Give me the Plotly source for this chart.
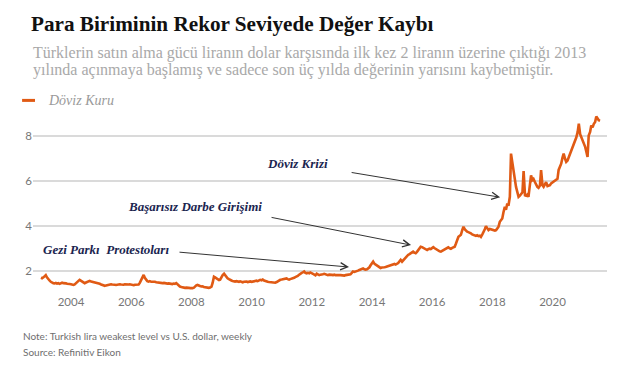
import pandas as pd
import plotly.graph_objects as go

# Semi-monthly weekly-high USD/TRY readings (1st and 15th of each month)
rate_2003_2008 = [
    1.68,1.66,1.70,1.78,1.80,1.70,1.60,1.56,1.50,1.46,1.44,1.43,1.45,1.42,1.44,1.41,1.43,1.46,1.44,1.45,1.43,1.41,1.42,1.40,
    1.39,1.37,1.36,1.38,1.42,1.47,1.54,1.59,1.55,1.50,1.46,1.44,1.47,1.50,1.52,1.54,1.51,1.50,1.48,1.47,1.45,1.44,1.43,1.41,
    1.38,1.35,1.33,1.32,1.34,1.36,1.38,1.37,1.39,1.38,1.39,1.37,1.36,1.38,1.37,1.39,1.38,1.36,1.37,1.39,1.38,1.37,1.38,1.39,
    1.37,1.36,1.35,1.37,1.38,1.39,1.38,1.45,1.58,1.72,1.81,1.68,1.58,1.53,1.51,1.53,1.50,1.51,1.49,1.50,1.48,1.47,1.48,1.46,
    1.45,1.44,1.45,1.43,1.44,1.42,1.43,1.41,1.42,1.40,1.42,1.41,1.44,1.38,1.30,1.29,1.27,1.25,1.22,1.23,1.24,1.22,1.23,1.22,
    1.21,1.22,1.24,1.30,1.34,1.36,1.32,1.31,1.29,1.30,1.27,1.26,1.24,1.22,1.23,1.24,1.28,1.45,1.73,1.70,1.66,1.62,1.58,1.60,
]
rate_2009_2013 = [
    1.72,1.80,1.86,1.78,1.70,1.66,1.62,1.58,1.56,1.54,1.52,1.51,1.53,1.51,1.50,1.52,1.50,1.48,1.50,1.52,1.51,1.49,1.51,1.52,
    1.50,1.52,1.54,1.53,1.55,1.53,1.56,1.59,1.57,1.60,1.56,1.53,1.51,1.50,1.49,1.48,1.46,1.45,1.44,1.46,1.49,1.53,1.57,1.59,
    1.60,1.62,1.64,1.66,1.65,1.62,1.60,1.62,1.63,1.66,1.68,1.71,1.73,1.76,1.82,1.87,1.90,1.92,1.96,1.90,1.88,1.90,1.88,1.92,
    1.90,1.86,1.82,1.79,1.86,1.84,1.80,1.82,1.85,1.84,1.86,1.83,1.81,1.80,1.82,1.80,1.81,1.80,1.82,1.80,1.81,1.79,1.80,1.80,
    1.79,1.77,1.78,1.80,1.81,1.80,1.81,1.84,1.90,1.96,1.94,1.97,1.98,2.00,2.03,2.06,2.08,2.10,2.06,2.04,2.06,2.10,2.15,2.24,
]
rate_2014_2017 = [
    2.32,2.40,2.30,2.26,2.24,2.18,2.15,2.12,2.14,2.13,2.15,2.16,2.18,2.20,2.19,2.22,2.24,2.28,2.30,2.27,2.29,2.34,2.42,2.48,
    2.40,2.46,2.52,2.60,2.66,2.70,2.74,2.78,2.82,2.85,2.80,2.78,2.84,2.92,3.00,3.07,3.05,3.02,2.98,2.94,2.92,2.96,2.98,2.96,
    3.02,3.05,3.00,2.96,2.92,2.88,2.86,2.85,2.88,2.92,2.96,2.98,3.00,3.04,3.00,2.98,3.02,3.04,3.07,3.20,3.40,3.51,3.56,3.60,
    3.82,3.96,3.84,3.76,3.74,3.72,3.70,3.67,3.62,3.60,3.56,3.55,3.58,3.54,3.56,3.51,3.62,3.70,3.85,3.99,3.88,3.81,3.86,3.84,
]
rate_2018_2021 = [
    3.80,3.78,3.79,3.81,3.86,3.95,4.18,4.24,4.33,4.60,4.85,4.72,5.00,4.90,5.30,7.23,6.80,6.56,6.10,5.74,5.50,5.30,5.35,5.45,
    5.50,6.45,5.37,5.35,5.40,5.30,5.85,6.26,6.05,6.10,5.96,5.85,5.74,5.70,5.80,6.49,5.82,5.75,5.89,5.95,5.78,5.80,5.82,5.90,
    5.95,5.98,6.00,6.04,6.10,6.50,6.65,6.78,7.05,7.23,7.00,6.86,6.92,7.05,7.23,7.35,7.45,7.60,7.75,7.95,8.20,8.57,8.10,7.97,
    7.80,7.60,7.52,7.30,7.08,8.04,8.20,8.49,8.40,8.55,8.64,8.89,8.80,8.72,8.71,
]
rates = rate_2003_2008 + rate_2009_2013 + rate_2014_2017 + rate_2018_2021
dates = pd.date_range("2003-01-01", periods=len(rates), freq="SMS")

series_name = "Döviz Kuru"
title = "Para Biriminin Rekor Seviyede Değer Kaybı"
subtitle_1 = "Türklerin satın alma gücü liranın dolar karşısında ilk kez 2 liranın üzerine çıktığı 2013"
subtitle_2 = "yılında açınmaya başlamış ve sadece son üç yılda değerinin yarısını kaybetmiştir."
note = "Note: Turkish lira weakest level vs U.S. dollar, weekly"
source = "Source: Refinitiv Eikon"

events = [
    ("Döviz Krizi", "2018-04-05", 5.28),
    ("Başarısız Darbe Girişimi", "2015-04-20", 3.14),
    ("Gezi Parkı\u00a0 Protestoları", "2013-03-28", 2.16),
]
event_text_pos = [(0.404, 0.725), (0.162, 0.486), (0.014, 0.241)]
event_arrow_offsets = [(-150, -25), (-141, -28), (-171, -15)]

ORANGE = "#e05a14"
SERIF = "Liberation Serif"
SANS = "Lato"

fig = go.Figure()
fig.add_trace(go.Scatter(
    x=dates, y=rates, mode="lines", name=series_name,
    line=dict(color=ORANGE, width=2.6), showlegend=False,
))

annotations = []
for (label, ex, ey), (tx, ty), (ax, ay) in zip(events, event_text_pos, event_arrow_offsets):
    annotations.append(dict(
        x=ex, y=ey, xref="x", yref="y", ax=ax, ay=ay, axref="pixel", ayref="pixel",
        text="", showarrow=True, arrowhead=5, arrowsize=1.4, arrowwidth=1,
        arrowcolor="#333333", standoff=0,
    ))
    annotations.append(dict(
        x=tx, y=ty, xref="paper", yref="paper", xanchor="left", yanchor="middle",
        text=f"<b><i>{label}</i></b>", showarrow=False,
        font=dict(family=SERIF, size=13, color="#1b2550"),
    ))

annotations += [
    dict(x=-0.0035, y=1.343, xref="paper", yref="paper", xanchor="left", yanchor="middle",
         text=subtitle_1, showarrow=False, font=dict(family=SERIF, size=16, color="#a9a9a9")),
    dict(x=-0.0035, y=1.248, xref="paper", yref="paper", xanchor="left", yanchor="middle",
         text=subtitle_2, showarrow=False, font=dict(family=SERIF, size=16, color="#a9a9a9")),
    dict(x=0.023, y=1.076, xref="paper", yref="paper", xanchor="left", yanchor="middle",
         text=f"<i>{series_name}</i>", showarrow=False, font=dict(family=SERIF, size=14, color="#9a9a9a")),
    dict(x=-0.021, y=-0.24, xref="paper", yref="paper", xanchor="left", yanchor="middle",
         text=note, showarrow=False, font=dict(family=SANS, size=10, color="#6e6e6e")),
    dict(x=-0.021, y=-0.33, xref="paper", yref="paper", xanchor="left", yanchor="middle",
         text=source, showarrow=False, font=dict(family=SANS, size=10, color="#6e6e6e")),
]

fig.update_layout(
    width=640, height=371,
    margin=dict(l=33, r=33, t=114, b=78, autoexpand=False),
    paper_bgcolor="white", plot_bgcolor="white",
    title=dict(text=f"<b>{title}</b>", x=31/640, xanchor="left", y=1-24/371, yanchor="middle",
               font=dict(family=SERIF, size=21.2, color="#111111")),
    annotations=annotations,
    shapes=[dict(type="line", xref="paper", yref="paper", x0=-0.019, x1=0.0035, y0=1.076, y1=1.076,
                 line=dict(color=ORANGE, width=3))],
    xaxis=dict(
        range=["2002-09-27", "2021-10-23"], tick0="2004-01-01", dtick="M24", tickformat="%Y",
        showgrid=False, zeroline=False, showline=False, ticks="", automargin=False,
        tickfont=dict(family=SANS, size=11.5, color="#777777"),
    ),
    yaxis=dict(
        range=[1, 9], tickvals=[2, 4, 6, 8], showgrid=True, gridcolor="#dadada", gridwidth=1.5,
        zeroline=False, showline=False, ticks="", automargin=False,
        tickfont=dict(family=SANS, size=11.5, color="#777777"),
    ),
)

fig.write_html("out.html", config={"displayModeBar": False},
               post_script="document.body.style.margin='0';document.body.style.padding='0';")
